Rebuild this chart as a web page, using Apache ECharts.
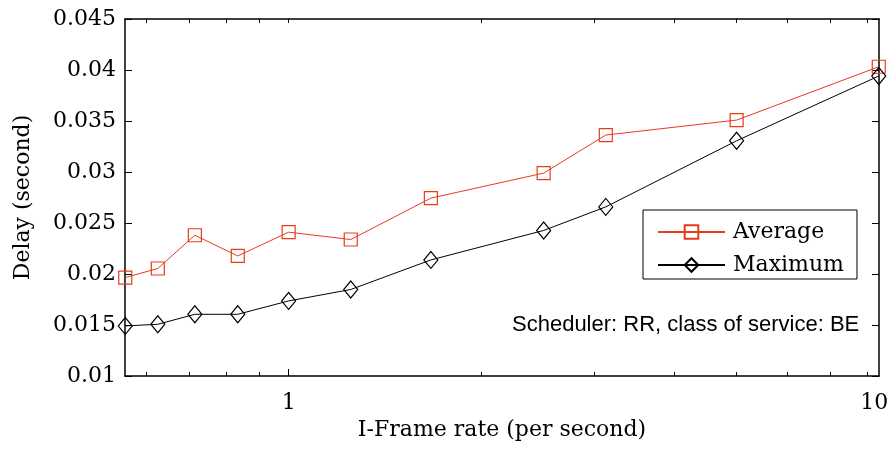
<!DOCTYPE html>
<html><head><meta charset="utf-8">
<script src="https://cdn.jsdelivr.net/npm/echarts@6/dist/echarts.min.js"></script>
<style>html,body{margin:0;padding:0;background:#fff}#c{width:896px;height:451px}</style>
</head><body><div id="c"></div>
<script>
// I-Frame rate (per second)
const iFrameRate = [0.556, 0.625, 0.714, 0.833, 1, 1.25, 1.667, 2.5, 3.125, 5, 8.333];
// Delay (second)
const averageDelay = [0.01965, 0.02054, 0.0238, 0.02177, 0.0241, 0.02338, 0.02744, 0.02989, 0.03362, 0.03509, 0.04032];
const maximumDelay = [0.01491, 0.01507, 0.01605, 0.01605, 0.01736, 0.01848, 0.02138, 0.02427, 0.02658, 0.03306, 0.03941];
const seriesNames = ['Average', 'Maximum'];
// axis ticks / labels
const xLabelValues = [1, 8.2];
const xLabelTexts = ['1', '10'];
const xMajorTicks = [1];
const xMinorTicks = [0.6, 0.7, 0.8, 0.9, 2, 3, 4, 5, 6, 7, 8];
const xAllTicks = [0.6, 0.7, 0.8, 0.9, 1, 2, 3, 4, 5, 6, 7, 8];
const yMin = 0.01, yMax = 0.045, yStep = 0.005;
const xMin = 0.5555, xMax = 8.34;
const annotation = 'Scheduler: RR, class of service: BE';

const SERIF = 'DejaVu Serif';
const RED = '#e63c1e';
const chart = echarts.init(document.getElementById('c'), null, {renderer: 'canvas'});
function nearestLabel(v) {
  let best = 0, d = Infinity;
  xLabelValues.forEach((x, i) => { const dd = Math.abs(Math.log(x) - Math.log(v)); if (dd < d) { d = dd; best = i; } });
  return xLabelTexts[best];
}
const baseX = {type: 'log', logBase: 10, min: xMin, max: xMax, gridIndex: 0, splitLine: {show: false}, minorTick: {show: false}};
chart.setOption({
  animation: false,
  backgroundColor: '#fff',
  grid: {left: 125, right: 17, top: 19, bottom: 75, containLabel: false},
  xAxis: [
    Object.assign({}, baseX, {
      position: 'bottom',
      name: 'I-Frame rate (per second)', nameLocation: 'middle', nameGap: 43,
      nameTextStyle: {fontFamily: SERIF, fontSize: 22, color: '#000'},
      axisLine: {show: true, onZero: false, lineStyle: {color: '#000', width: 1.5}},
      axisTick: {show: true, inside: true, length: 7, customValues: xMajorTicks, lineStyle: {color: '#000', width: 1}},
      axisLabel: {show: true, customValues: xLabelValues, margin: 16, fontFamily: SERIF, fontSize: 22, color: '#000',
        formatter: v => nearestLabel(v)}
    }),
    Object.assign({}, baseX, {
      position: 'bottom',
      axisLine: {show: false},
      axisTick: {show: true, inside: true, length: 4, customValues: xMinorTicks, lineStyle: {color: '#000', width: 1}},
      axisLabel: {show: false}
    }),
    Object.assign({}, baseX, {
      position: 'top',
      axisLine: {show: true, onZero: false, lineStyle: {color: '#000', width: 1.5}},
      axisTick: {show: true, inside: true, length: 4, customValues: xAllTicks, lineStyle: {color: '#000', width: 1}},
      axisLabel: {show: false}
    })
  ],
  yAxis: [
    {type: 'value', min: yMin, max: yMax, interval: yStep, position: 'left',
     name: 'Delay (second)', nameLocation: 'middle', nameGap: 91,
     nameTextStyle: {fontFamily: SERIF, fontSize: 22, color: '#000'},
     axisLine: {show: true, onZero: false, lineStyle: {color: '#000', width: 1.5}},
     axisTick: {show: true, inside: true, length: 7, lineStyle: {color: '#000', width: 1}},
     axisLabel: {margin: 9, fontFamily: SERIF, fontSize: 22, color: '#000'},
     splitLine: {show: false}},
    {type: 'value', min: yMin, max: yMax, interval: yStep, position: 'right',
     axisLine: {show: true, onZero: false, lineStyle: {color: '#000', width: 1.5}},
     axisTick: {show: true, inside: true, length: 7, lineStyle: {color: '#000', width: 1}},
     axisLabel: {show: false}, splitLine: {show: false}}
  ],
  legend: {
    orient: 'vertical', left: 643, top: 210,
    padding: [11, 13, 3, 14], itemGap: 11, itemWidth: 67, itemHeight: 17,
    backgroundColor: '#fff', borderColor: '#000', borderWidth: 1, borderRadius: 0,
    textStyle: {fontFamily: SERIF, fontSize: 22, color: '#000', padding: [0, 0, 0, 3]},
    data: seriesNames
  },
  graphic: [{
    type: 'text', x: 512, y: 325, z: 100,
    style: {text: annotation, fill: '#000', font: '22px "Liberation Sans", Arial, sans-serif', align: 'left', verticalAlign: 'middle'}
  }],
  series: [
    {name: seriesNames[0], type: 'line', xAxisIndex: 0, yAxisIndex: 0, clip: false,
     data: iFrameRate.map((x, i) => [x, averageDelay[i]]),
     symbol: 'rect', symbolSize: 13,
     itemStyle: {color: 'rgba(0,0,0,0)', borderColor: RED, borderWidth: 1.2},
     lineStyle: {color: RED, width: 1}},
    {name: seriesNames[1], type: 'line', xAxisIndex: 0, yAxisIndex: 0, clip: false,
     data: iFrameRate.map((x, i) => [x, maximumDelay[i]]),
     symbol: 'diamond', symbolSize: [14, 17],
     itemStyle: {color: 'rgba(0,0,0,0)', borderColor: '#000', borderWidth: 1.2},
     lineStyle: {color: '#000', width: 1}}
  ]
});
</script></body></html>
